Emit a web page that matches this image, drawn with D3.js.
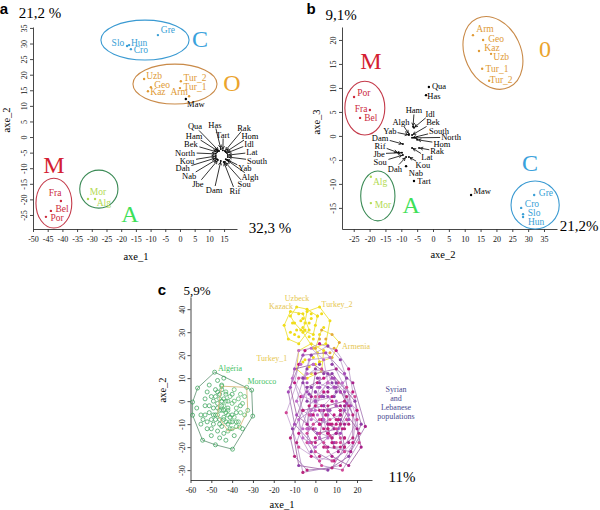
<!DOCTYPE html>
<html><head><meta charset="utf-8">
<script src="https://cdn.jsdelivr.net/npm/d3@7"></script>
<style>body{margin:0;background:#fff}</style>
</head><body><script>
// ================= DATA =================
// Panel a (axe_1 x axe_2): [name, x, y, labelX, labelY, group]
const aPoints = [
 ["Gre",-7.5,32.7,-4.1,34.3,"C"],["Slo",-18.0,29.2,-21.1,30.4,"C"],["Hun",-17.3,29.5,-13.9,30.4,"C"],["Cro",-16.7,28.2,-13.3,27.9,"C"],
 ["Uzb",-12.2,18.6,-8.8,19.6,"O"],["Geo",-9.9,16.0,-6.1,16.7,"O"],["Kaz",-10.9,14.7,-7.5,14.4,"O"],["Arm",3.1,13.1,-0.3,14.4,"O"],
 ["Tur_2",0.3,17.9,5.1,19.2,"O"],["Tur_1",0,15.7,5.1,16.3,"O"],
 ["Fra",-40.5,-20.5,-42.5,-17.9,"M"],["Bel",-43.9,-23.7,-40.1,-23.1,"M"],["Por",-45.6,-25.6,-41.8,-26.0,"M"],
 ["Mor",-31.3,-19.9,-27.9,-17.6,"A"],["Alg",-28.9,-19.9,-25.9,-21.2,"A"],
 ["Maw",2.0,12.2,5.4,10.6,"S"]
];
// Panel a, Syrian/Lebanese populations labelled with arrows: [name, x, y, labelX, labelY]
const aArrowed = [
 ["Qua",13.3,-4.5,5.1,3.4],["Has",13.9,-3.8,11.9,4.0],["Tart",14.6,-4.2,14.6,0.8],["Rak",15.3,-4.5,21.8,3.0],
 ["Hom",15.6,-4.8,23.8,0.3],["Idl",16.0,-5.1,23.5,-2.3],["Lat",16.3,-5.8,24.5,-4.9],["South",16.3,-6.4,26.2,-7.6],
 ["Yab",15.6,-7.1,22.1,-10.1],["Algh",16.0,-7.4,23.8,-12.7],["Sou",15.3,-8.0,21.8,-15.0],["Rif",14.9,-8.0,18.7,-17.3],
 ["Dam",13.9,-7.7,11.6,-17.0],["Jbe",12.9,-7.4,6.1,-15.0],["Nab",12.6,-7.1,3.1,-12.5],["Dah",12.2,-6.7,0.9,-10.0],
 ["Kou",12.2,-6.1,2.4,-7.6],["North",12.2,-5.4,1.7,-5.0],["Bek",12.6,-4.8,3.7,-2.4],["Ham",12.9,-4.5,4.8,0.3]
];
// group ellipses: [group, cx, cy, rx, ry, rotation]
const aEllipses = [["C",-11.9,31.1,15,6.4,0],["O",-1.7,17,14.3,6.4,0],["M",-42.9,-21.2,6.1,8,0],["A",-27.6,-16.7,6.5,6.1,0]];
const aLetters = [["C","C",6.8,31.7],["O","O",17.7,17.6],["M","M",-42.9,-9.0],["A","A",-17,-24.4]];
const aXTicks = [-50,-45,-40,-35,-30,-25,-20,-15,-10,-5,0,5,10,15];
const aYTicks = [-25,-20,-15,-10,-5,0,5,10,15,20,25,30,35];

// Panel b (axe_2 x axe_3)
const bPoints = [
 ["Arm",12.6,21.0,16.4,22.3,"O"],["Geo",15.8,20.0,19.9,20.2,"O"],["Kaz",14.5,17.7,18.6,18.3,"O"],["Uzb",18.3,17.1,21.5,16.5,"O"],
 ["Tur_1",15.5,14.0,20.2,14.0,"O"],["Tur_2",17.7,11.5,21.5,11.7,"O"],
 ["Por",-24.9,8.1,-21.8,9.0,"M"],["Fra",-19.9,5.4,-22.7,5.6,"M"],["Bel",-23.0,3.75,-19.6,3.75,"M"],
 ["Alg",-19.6,-8.5,-16.7,-9.6,"A"],["Mor",-19.6,-14.0,-15.8,-14.4,"A"],
 ["Gre",31.9,-12.3,35.6,-11.9,"C"],["Cro",27.8,-15.0,31.2,-14.2,"C"],["Slo",28.4,-16.3,31.9,-16.0,"C"],["Hun",28.4,-16.9,32.5,-17.9,"C"],
 ["Nab",-8.5,-6.3,-5.4,-7.8,"S"],["Tart",-6.0,-9.4,-2.8,-9.4,"S"],["Qua",-1.3,10.2,1.9,10.4,"S"],["Has",-2.2,8.5,0.3,8.3,"S"],
 ["Maw",12.0,-12.3,15.5,-11.5,"S"]
];
const bArrowed = [
 ["Ham",-6.3,1.9,-6.0,5.3],["Idl",-6.0,1.7,-0.9,4.6],["Algh",-7.6,0.4,-10.1,2.8],["Bek",-6.6,0.2,0,2.8],
 ["Yab",-7.6,0.2,-13.6,1.0],["South",-6.6,-0.4,1.9,1.0],["North",-6.0,-0.4,5.7,-0.3],["Hom",-5.0,-0.8,2.8,-1.6],
 ["Dam",-9.5,-1.7,-16.7,-0.4],["Rif",-11.0,-3.5,-16.7,-2.1],["Rak",-4.4,-2.5,1.3,-3.2],["Jbe",-9.8,-3.5,-17.0,-3.7],
 ["Lat",-6.6,-2.5,-1.9,-4.5],["Sou",-9.5,-4.0,-16.7,-5.4],["Kou",-7.6,-4.4,-3.2,-6.1],["Dah",-8.5,-4.4,-12.0,-6.8]
];
const bEllipses = [["C",32.2,-14.4,7.6,5.0,0],["O",18.9,17.3,8.8,7.9,-25],["M",-21.5,5.8,6.3,5.6,0],["A",-17.4,-12.5,5.4,5.2,0]];
const bLetters = [["M","M",-19.6,15.8],["O","0",35.3,18.3],["C","C",30.6,-5.6],["A","A",-6.9,-14.4]];
const bXTicks = [-25,-20,-15,-10,-5,0,5,10,15,20,25,30,35];
const bYTicks = [-15,-10,-5,0,5,10,15,20];

// Panel c (individuals, axe_1 x axe_2)
const algeriaPts = [[-48.4,12.6],[-30.6,4.8],[-30.1,-6.5],[-39.8,-20.9],[-54.2,-17],[-59,-6.1],[-59,-0.4],[-56.6,5.7],
 [-52,4],[-50,2],[-48,5],[-46,3],[-45,7],[-44,1],[-47,-1],[-49,-3],[-51,-5],[-53,-2],[-55,-6],[-50,-8],
 [-48,-6],[-46,-4],[-44,-7],[-42,-3],[-43,-9],[-45,-11],[-47,-13],[-49,-10],[-52,-12],[-55,-10],
 [-41,-12],[-40,-6],[-38,-9],[-42,0],[-40,3],[-46,-16],[-43,-17],[-50,-15],[-57,-3],[-53,1],
 [-47,9],[-44,10],[-36,-2],[-35,-12],[-39,-15],[-48,-19],[-54,-8],[-51,7],[-45,-2],[-43,-5],
 [-49,0],[-46,-8],[-44,-14],[-52,-9],[-47,4],[-41,-7],[-50,-12],[-45,5],[-48,-8],[-46,-10],[-44,-4],
 [-42,-10],[-51,-2],[-49,-6],[-47,-3],[-45,0],[-43,3],[-48,2],[-53,-6],[-40,-9],[-38,-5]];
const moroccoPts = [[-45,6.5],[-33,6],[-32.5,-4],[-36.4,-11.3],[-42,-13],[-47,-6],
 [-43,4],[-41,2],[-39,5],[-37,1],[-35,-1],[-38,-3],[-40,-1],[-42,-4],[-44,-2],[-39,-7],[-37,-9],[-34,-6],
 [-41,-9],[-44,-8],[-36,3],[-43,0],[-45,-4],[-38,-11],[-40,-12],[-46,1],[-34,2],[-39,0],[-42,-6],[-36,-5]];
const kazackPts = [[-15,33],[-12,39],[-6,38],[-3,31],[-8,25],[-13,27],[-11,34],[-9,31],[-7,35],[-10,29],[-5,34],[-12,30],[-8,28],[-6,32]];
const uzbeckPts = [[-9,41],[-4,40],[1,37],[-1,29],[-7,31],[-12,37],[-6,36],[-3,34],[-8,38],[-5,31],[-2,38],[-10,34]];
const turkey2Pts = [[-4,39],[2,41],[7,35],[5,25],[-1,23],[-6,30],[0,33],[2,29],[-2,36],[3,38],[-3,28],[1,37],[4,32],[-1,27]];
const armeniaPts = [[3,31],[8,29],[11.5,25.5],[8,19],[2,17],[0,23],[6,24],[5,27],[9,23],[2,27],[4,21],[7,21]];
const turkey1Pts = [[-8,22],[-2,25],[4,22],[3,13],[-4,10],[-9,14],[-5,18],[-1,19],[0,16],[-3,15],[-6,17],[1,21],[-2,12],[2,17]];
const syrLebPops = [
 [[-5,22],[2,25],[10,22],[16,14],[18,4],[12,-6],[2,-10],[-6,-4],[-10,8],[-8,16],[4,10],[8,2]],
 [[-13,4],[-6,20],[5,21],[14,12],[17,-2],[10,-14],[-2,-18],[-10,-10],[0,4],[6,-4],[-4,8],[10,6]],
 [[-14,-5],[-8,10],[3,14],[15,6],[20,-8],[14,-20],[2,-26],[-8,-20],[-2,-6],[6,-12],[10,-2],[0,2]],
 [[-8,-28],[-11,-12],[-4,6],[8,12],[19,0],[22,-10],[16,-24],[6,-30],[2,-14],[9,-18],[-2,-22],[12,-8]],
 [[-6,-31],[-9,-18],[-3,-2],[6,8],[15,2],[21,-14],[12,-28],[4,-20],[8,-10],[-1,-12],[14,-16],[2,-4]],
 [[-3,18],[7,19],[13,8],[16,-6],[8,-16],[-3,-12],[-9,0],[-5,10],[2,6],[5,-6],[10,0],[0,-4]],
 [[0,12],[10,14],[18,8],[24,-11],[17,-22],[6,-20],[-4,-10],[-2,2],[6,4],[12,-6],[9,-12],[14,-2]],
 [[-7,2],[1,8],[12,4],[20,-4],[18,-18],[9,-26],[-2,-24],[-8,-14],[3,-8],[8,-18],[13,-12],[0,-16]],
 [[-10,14],[-1,16],[9,10],[15,-1],[11,-12],[1,-14],[-9,-6],[-12,6],[-4,4],[3,2],[6,-6],[-2,-6]],
 [[2,2],[11,8],[19,2],[21,-18],[13,-30],[3,-28],[-4,-18],[-3,-6],[7,-8],[12,-18],[5,-20],[15,-8]],
 [[-2,20],[6,24],[12,18],[15,10],[9,2],[0,0],[-6,8],[-4,14],[4,12],[8,16],[2,16],[10,8]],
 [[-12,-16],[-6,-4],[4,-2],[12,-10],[14,-20],[8,-29],[-4,-30],[-10,-24],[0,-18],[6,-14],[2,-24],[-4,-12]],
 [[-8,22],[-2,23],[4,18],[6,8],[0,0],[-6,2],[-11,10],[-4,12],[-1,16],[2,10],[-7,16],[1,6]],
 [[4,-4],[12,-2],[20,-12],[22,-20],[16,-28],[8,-24],[2,-16],[10,-14],[16,-18],[6,-10],[14,-10],[11,-22]],
 [[0,-2],[4,4],[8,0],[12,-4],[10,-10],[6,-14],[2,-10],[-1,-6],[5,-6],[9,-6],[3,-2],[7,-10],[4,-12],[11,-8]],
 [[2,6],[8,10],[14,4],[16,-8],[12,-14],[4,-8],[0,0],[6,2],[10,-2],[12,4],[7,-4],[3,2],[9,6],[14,-4]],
 [[-4,-14],[2,-8],[10,-12],[14,-22],[8,-26],[0,-22],[-2,-18],[4,-18],[6,-22],[10,-18],[2,-14],[7,-15],[12,-16],[-1,-10]],
 [[-6,10],[0,14],[6,12],[10,4],[4,-2],[-4,0],[-2,6],[2,8],[6,6],[0,4],[8,8],[-3,3],[4,2],[1,10]],
 [[6,-2],[14,0],[18,-6],[18,-16],[12,-20],[6,-12],[10,-8],[14,-12],[16,-10],[8,-16],[12,-4],[16,-2],[9,-20],[14,-16]],
 [[-8,-8],[-2,-4],[4,-8],[6,-16],[0,-20],[-6,-16],[-4,-12],[0,-12],[2,-16],[-2,-8],[-6,-12],[3,-4],[-3,-18],[1,-6]]
];
// panel c population labels: [text, x, y, kind]
const cLabels = [["Uzbeck",-8.8,44.8,"Y"],["Kazack",-16.5,41.3,"Y"],["Turkey_2",10.4,42.2,"Y"],["Armenia",19.5,23.9,"Y"],
 ["Turkey_1",-20.9,18.7,"Y"],["Algéria",-41.0,14.3,"G"],["Morocco",-25.7,8.7,"G"]];
const cXTicks = [-60,-50,-40,-30,-20,-10,0,10,20];
const cYTicks = [-30,-20,-10,0,10,20,30,40];

// ================= STYLE =================
const SERIF = "'Liberation Serif','Times New Roman',serif";
const SANS = "'Liberation Sans',Arial,sans-serif";
const ptColor = {C:"#3a9fd6", O:"#e09a35", M:"#cc2a3c", A:"#b3da52", S:"#000"};
const ellColor = {C:"#3a9ad2", O:"#c98a48", M:"#c43a4a", A:"#3a8a55"};
const letColor = {C:"#3aa2dc", O:"#eba42c", M:"#d42032", A:"#3ee058"};
const magCols = ["#c2187e","#a64cb8","#d04896","#8f3fa8","#b8267c","#c068c8","#a8208a"];
const hullCols = ["#b99ac9","#a070b0","#c4a0d0","#9a5a9e","#b48cc4"];

const svg = d3.select("body").append("svg").attr("width",600).attr("height",510);

function axes(g, x, y, xt, yt){
  const xa = g.append("g").attr("transform",`translate(0,${y.range()[0]})`)
    .call(d3.axisBottom(x).tickValues(xt).tickSize(3).tickSizeOuter(0).tickFormat(d=>String(d)));
  xa.selectAll("text").attr("font-family",SERIF).attr("font-size",8).attr("y",7).attr("fill","#111");
  const ya = g.append("g").attr("transform",`translate(${x.range()[0]},0)`)
    .call(d3.axisLeft(y).tickValues(yt).tickSize(3).tickSizeOuter(0).tickFormat(d=>String(d)));
  ya.selectAll("text").attr("font-family",SERIF).attr("font-size",8).attr("transform","rotate(-90)")
    .attr("x",0).attr("y",-6).attr("dy",0).attr("text-anchor","middle").attr("fill","#111");
  [xa,ya].forEach(a=>{a.selectAll("path,line").attr("stroke","#333").attr("stroke-width",0.9);});
}
function text(g,x,y,s,o={}){
  return g.append("text").attr("x",x).attr("y",y).attr("dy","0.35em").attr("text-anchor",o.anchor||"middle")
   .attr("font-family",o.font||SERIF).attr("font-size",o.size||10).attr("font-weight",o.weight||"normal")
   .attr("fill",o.fill||"#000").text(s);
}
function arrow(g, lbl, px, py){
  const b = lbl.node().getBBox();
  const cx=b.x+b.width/2, cy=b.y+b.height/2;
  let dx=px-cx, dy=py-cy; const L=Math.hypot(dx,dy); dx/=L; dy/=L;
  const hw=b.width/2+1, hh=b.height/2-1;
  const t=Math.min(Math.abs(dx)>1e-6?hw/Math.abs(dx):1e9, Math.abs(dy)>1e-6?hh/Math.abs(dy):1e9);
  const x1=cx+dx*t, y1=cy+dy*t, x2=px-dx*1.2, y2=py-dy*1.2;
  if (Math.hypot(x2-x1,y2-y1)<2) return;
  const a=Math.atan2(y2-y1,x2-x1), h=3.2;
  g.append("path").attr("fill","none").attr("stroke","#000").attr("stroke-width",0.8)
   .attr("d",`M${x1},${y1}L${x2},${y2}M${x2-h*Math.cos(a-0.5)},${y2-h*Math.sin(a-0.5)}L${x2},${y2}L${x2-h*Math.cos(a+0.5)},${y2-h*Math.sin(a+0.5)}`);
}
function biplot(o){
  const g = svg.append("g");
  const x = d3.scaleLinear().domain(o.xd).range(o.xr);
  const y = d3.scaleLinear().domain(o.yd).range(o.yr);
  axes(g,x,y,o.xt,o.yt);
  o.ell.forEach(([k,cx,cy,rx,ry,rot])=>{
    g.append("ellipse").attr("cx",x(cx)).attr("cy",y(cy))
     .attr("rx",Math.abs(x(cx+rx)-x(cx))).attr("ry",Math.abs(y(cy+ry)-y(cy)))
     .attr("transform",`rotate(${rot},${x(cx)},${y(cy)})`)
     .attr("fill","none").attr("stroke",ellColor[k]).attr("stroke-width",1.1);
  });
  o.letters.forEach(([k,s,lx,ly])=>text(g,x(lx),y(ly),s,{size:24,fill:letColor[k]}));
  o.pts.forEach(([n,px,py,lx,ly,k])=>{
    g.append("circle").attr("cx",x(px)).attr("cy",y(py)).attr("r",1.2).attr("fill",ptColor[k]);
    text(g,x(lx),y(ly),n,{size:k==="S"?8.5:9.5,fill:ptColor[k]});
  });
  o.arrowed.forEach(([n,px,py,lx,ly])=>{
    g.append("circle").attr("cx",x(px)).attr("cy",y(py)).attr("r",1).attr("fill","#000");
    const t = text(g,x(lx),y(ly),n,{size:8.5});
    arrow(g,t,x(px),y(py));
  });
  return {g,x,y};
}

// ----- panel a -----
const A = biplot({xd:[-50,19.4], xr:[33,237], yd:[-29.5,35.3], yr:[229,27], xt:aXTicks, yt:aYTicks,
  ell:aEllipses, letters:aLetters, pts:aPoints, arrowed:aArrowed});
text(A.g,136,256,"axe_1",{size:10.5});
text(A.g,0,0,"axe_2",{size:10.5}).attr("transform","translate(6,120) rotate(-90)");
text(A.g,4,9,"a",{font:SANS,weight:"bold",size:15});
text(A.g,40,13,"21,2 %",{size:15});
text(A.g,270,228,"32,3 %",{size:15});

// ----- panel b -----
const B = biplot({xd:[-28.7,39.1], xr:[342,557], yd:[-19.4,22.7], yr:[229,27], xt:bXTicks, yt:bYTicks,
  ell:bEllipses, letters:bLetters, pts:bPoints, arrowed:bArrowed});
text(B.g,443,254,"axe_2",{size:10.5});
text(B.g,0,0,"axe_3",{size:10.5}).attr("transform","translate(316,122) rotate(-90)");
text(B.g,311,9,"b",{font:SANS,weight:"bold",size:15});
text(B.g,341,15,"9,1%",{size:15});
text(B.g,579,226,"21,2%",{size:15});

// ----- panel c -----
const gc = svg.append("g");
const cx = d3.scaleLinear().domain([-60,27.2]).range([190.5,372]);
const cy = d3.scaleLinear().domain([-34.3,45.3]).range([480,297]);
axes(gc,cx,cy,cXTicks,cYTicks);
const hullPath = pts => { const h=d3.polygonHull(pts.map(p=>[cx(p[0]),cy(p[1])])); return "M"+h.join("L")+"Z"; };
[[algeriaPts,"#6f9c80","#2f9e52"],[moroccoPts,"#d9b87c","#4fb664"]].forEach(([pts,hc,pc])=>{
  gc.append("path").attr("d",hullPath(pts)).attr("fill","none").attr("stroke",hc).attr("stroke-width",0.9);
  gc.selectAll(null).data(pts).enter().append("circle").attr("cx",d=>cx(d[0])).attr("cy",d=>cy(d[1]))
    .attr("r",2).attr("fill","none").attr("stroke",pc).attr("stroke-width",0.7);
});
[kazackPts,uzbeckPts,turkey2Pts,armeniaPts,turkey1Pts].forEach((pts,i)=>{
  gc.append("path").attr("d",hullPath(pts)).attr("fill","none").attr("stroke","#eee23a").attr("stroke-width",0.9);
  gc.selectAll(null).data(pts).enter().append("circle").attr("cx",d=>cx(d[0])).attr("cy",d=>cy(d[1]))
    .attr("r",1.5).attr("fill",i===3?"#e3a83a":"#f0dc18");
});
syrLebPops.forEach((pts,i)=>{
  gc.append("path").attr("d",hullPath(pts)).attr("fill","none").attr("stroke",hullCols[i%hullCols.length]).attr("stroke-width",0.8);
});
syrLebPops.forEach((pts,i)=>{
  gc.selectAll(null).data(pts).enter().append("circle").attr("cx",d=>cx(d[0])).attr("cy",d=>cy(d[1]))
    .attr("r",1.6).attr("fill",magCols[i%magCols.length]);
});
cLabels.forEach(([s,lx,ly,k])=>text(gc,cx(lx),cy(ly),s,{size:8,fill:k==="Y"?"#e6c64e":"#3fc264"}));
["Syrian","and","Lebanese","populations"].forEach((s,i)=>text(gc,396,389+i*9,s,{size:8,fill:"#4a4a92"}));
text(gc,282,504,"axe_1",{size:10.5});
text(gc,0,0,"axe_2",{size:10.5}).attr("transform","translate(162,390) rotate(-90)");
text(gc,162,290,"c",{font:SANS,weight:"bold",size:15});
text(gc,197,290,"5,9%",{size:13});
text(gc,402,477,"11%",{size:15});
</script></body></html>
